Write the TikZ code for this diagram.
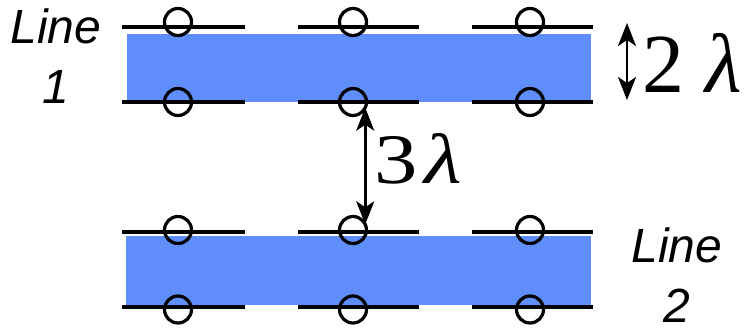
\documentclass[tikz,border=0pt]{standalone}
\usepackage{fontspec}
\setmainfont{Liberation Serif}
\setsansfont{Liberation Sans}
\usetikzlibrary{arrows.meta}
\definecolor{band}{RGB}{95,142,250}
\begin{document}
\begin{tikzpicture}[x=1pt,y=-1pt,
  wire/.style={line width=3.4pt},
  ring/.style={circle,draw,line width=3.2pt,minimum size=27pt,inner sep=0pt,outer sep=0pt},
  dim/.style={line width=2.6pt,{Stealth[length=23pt,width=18pt,inset=6pt]}-{Stealth[length=23pt,width=18pt,inset=6pt]}},
  lbl/.style={font=\sffamily\itshape\fontsize{48}{60}\selectfont,align=center,inner sep=0pt},
  big/.style={inner sep=0pt,anchor=base west},
  ]
\useasboundingbox (0,0) rectangle (744,335);
% bands
\fill[band] (127,33.5) rectangle (591,102);
\fill[band] (126,236) rectangle (591,305);
% wire segments
\foreach \y in {27,102,232,307}{
  \foreach \a/\b in {122/245,298/419,472/593}{
    \draw[wire] (\a,\y) -- (\b,\y);
  }
}
% rings
\foreach \y/\n in {22/r1,102/s1,230/r2,309.5/s2}{
  \foreach \x/\m in {178/a,353/b,530/c}{
    \node[ring] (\n\m) at (\x,\y) {};
  }
}
% 3 lambda dimension
\draw[dim] (s1b.-25) -- (r2b.25);
\node[big] (t3) at (374,183) {\fontsize{71}{71}\selectfont\scalebox{1.22}[1]{3\hspace{6pt}\textit{λ}}};
% 2 lambda dimension
\coordinate (d2t) at (627,23);
\coordinate (d2b) at (627,100);
\draw[dim] (d2t) -- (d2b);
\node[big] (t2) at (642,92) {\fontsize{84}{84}\selectfont 2 \textit{λ}};
% labels
\node[lbl,anchor=base] (l1) at (56,103) {Line\\1};
\node[lbl,anchor=base] (l2) at (677,322) {Line\\2};
\end{tikzpicture}
\end{document}
